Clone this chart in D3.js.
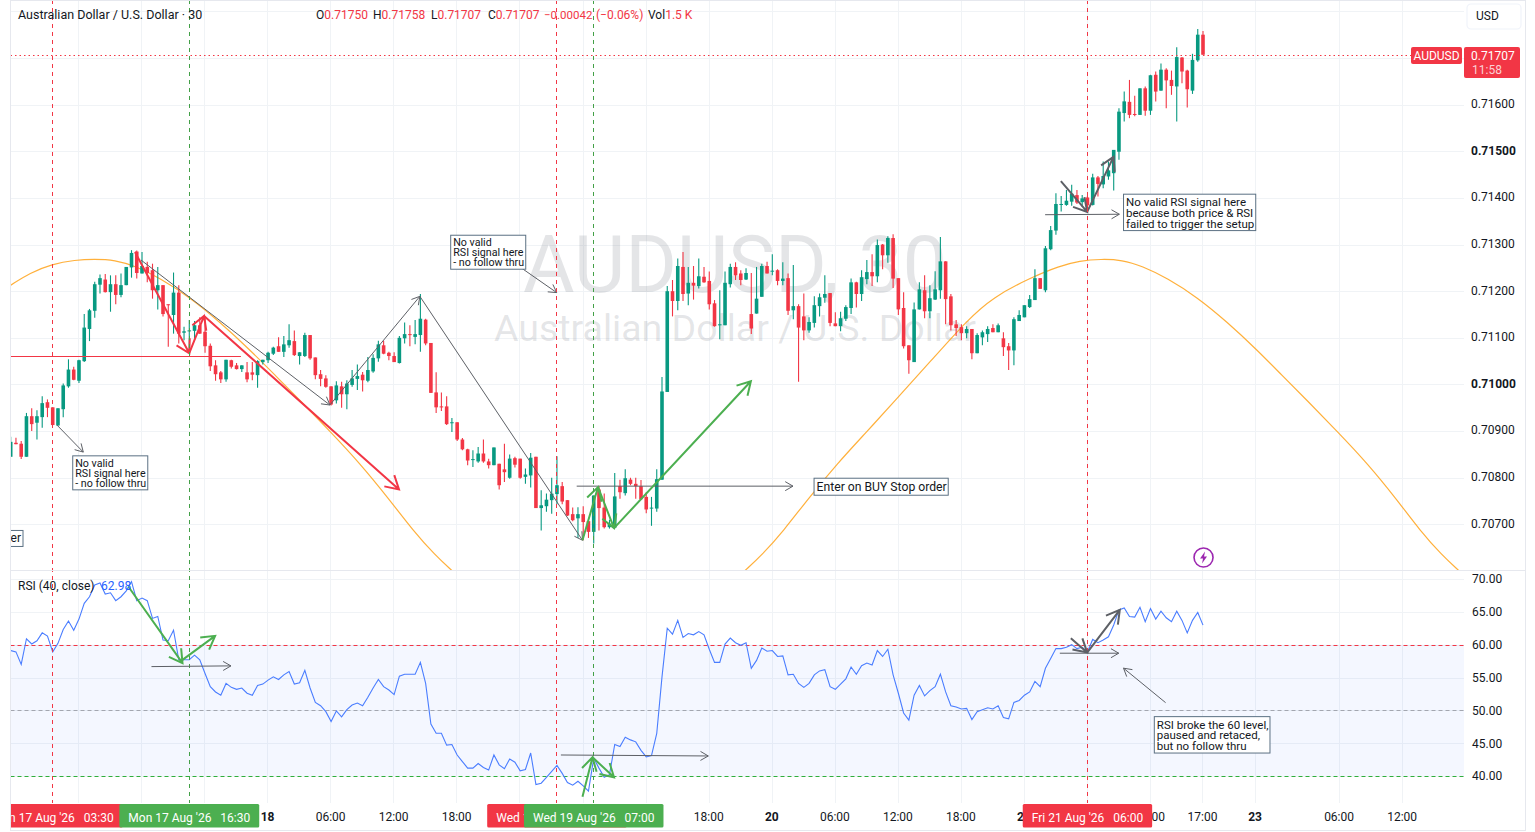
<!doctype html>
<html>
<head>
<meta charset="UTF-8">
<style>
	html,body{margin:0;padding:0;background:#fff;overflow:hidden;}
	svg{display:block;}
	text{font-family:Roboto,"Noto Sans",sans-serif;fill:#131722;}
	.axis path,.axis line{display:none;}
	.axis text{font-size:12px;font-family:Roboto,sans-serif;fill:#131722;}
</style>
</head>
<body>
<div id="chart"></div>
<script src="https://cdnjs.cloudflare.com/ajax/libs/d3/7.8.5/d3.min.js"></script>
<script>
// prices are in points, 71707 means 0.71707
var opens=[70845,70875,70873,70845,70932,70918,70930,70962,70951,70912,70947,70996,71032,71008,71050,71119,71158,71214,71225,71198,71215,71192,71213,71251,71285,71238,71252,71245,71202,71213,71172,71149,71197,71111,71115,71115,71127,71113,71083,71041,71026,71011,71052,71041,71033,71026,71026,71020,71048,71052,71066,71082,71070,71084,71093,71061,71061,71106,71058,71022,71013,70996,70966,70996,70979,70999,71012,71021,71008,71028,71056,71084,71068,71061,71046,
71099,71108,71102,71106,71139,71089,70983,70953,70953,70918,70919,70882,70861,70839,70835,70852,70835,70827,70830,70818,70800,70842,70841,70802,70805,70845,70735,70739,70752,70765,70782,70752,70722,70713,70722,70707,70684,70775,70736,70694,70693,70782,70767,70796,70787,70782,70759,70734,70734,70796,70984,71200,71179,71252,71195,71218,71211,71231,71222,71174,71127,71127,71215,71252,71238,71225,71151,71152,71188,71254,71242,71245,71222,
71228,71159,71168,71146,71116,71132,71168,71186,71196,71131,71125,71141,71164,71219,71194,71226,71241,71232,71300,71277,71314,71228,71164,71084,71048,71161,71202,71157,71182,71202,71264,71189,71129,71123,71110,71119,71067,71101,71108,71121,71112,71099,71082,71073,71136,71144,71166,71181,71228,71202,
71290,71330,71385,71385,71392,71406,71391,71401,71385,71444,71429,71446,71453,71499,71582,71606,71580,71578,71635,71587,71664,71630,71675,71653,71639,71701,71673,71630,71695,71750];
var highs=[70888,70886,70879,70939,70949,70945,70975,70968,70951,70949,71002,71054,71038,71053,71151,71162,71220,71236,71237,71234,71234,71238,71252,71288,71287,71284,71263,71259,71252,71213,71172,71240,71213,71124,71138,71136,71144,71144,71088,71052,71029,71053,71053,71046,71041,71048,71048,71052,71053,71070,71081,71101,71104,71129,71116,71069,71111,71106,71058,71031,71020,70996,71007,71006,71009,71031,71043,71027,71059,71065,71094,71094,71070,71069,71104,
71133,71127,71138,71194,71141,71089,71026,70983,70975,70928,70919,70885,70862,70859,70866,70882,70841,70865,70830,70873,70850,70845,70841,70820,70853,70845,70773,70766,70800,70846,70791,70752,70736,70737,70739,70709,70762,70782,70766,70710,70810,70796,70818,70800,70800,70795,70769,70759,70818,71016,71211,71224,71270,71284,71252,71254,71270,71252,71242,71181,71202,71242,71259,71262,71245,71249,71239,71252,71259,71263,71279,71247,71262,
71238,71256,71172,71195,71144,71189,71195,71234,71196,71155,71156,71170,71227,71220,71245,71267,71279,71311,71301,71318,71322,71228,71198,71084,71176,71219,71234,71213,71243,71316,71264,71194,71138,71129,71125,71119,71110,71116,71125,71129,71131,71112,71089,71144,71159,71170,71192,71247,71228,71297,
71340,71410,71404,71417,71428,71417,71406,71404,71452,71447,71478,71478,71503,71592,71628,71653,71619,71635,71639,71664,71671,71688,71678,71673,71723,71702,71675,71709,71762,71758];
var lows=[70845,70872,70840,70845,70900,70882,70907,70930,70913,70912,70930,70993,71009,71003,71048,71093,71143,71195,71197,71156,71172,71187,71213,71229,71227,71238,71219,71184,71161,71146,71081,71109,71088,71095,71073,71095,71108,71068,71029,71008,71003,71006,71034,71032,71027,71005,71009,70993,71043,71046,71063,71070,71059,71079,71061,71043,71059,71053,71011,70996,70993,70955,70959,70950,70947,70995,70988,70985,71005,71025,71049,71065,71052,71048,71045,
71088,71082,71086,71070,71084,70982,70939,70943,70913,70898,70879,70859,70827,70823,70832,70832,70820,70827,70775,70791,70798,70822,70798,70787,70779,70735,70687,70727,70723,70743,70743,70718,70707,70671,70666,70671,70659,70687,70691,70691,70691,70755,70762,70784,70755,70753,70724,70697,70727,70795,70984,71146,71159,71179,71170,71182,71206,71218,71161,71124,71097,71127,71208,71224,71213,71224,71108,71152,71188,71238,71234,71213,71213,
71149,71140,71006,71095,71111,71122,71146,71175,71125,71125,71114,71136,71151,71165,71179,71215,71211,71219,71247,71261,71207,71149,71077,71023,71048,71161,71142,71142,71181,71184,71129,71116,71104,71095,71099,71054,71067,71084,71091,71112,71112,71061,71031,71041,71136,71144,71164,71181,71205,71198,
71288,71321,71371,71383,71383,71387,71381,71371,71384,71403,71421,71439,71416,71482,71564,71571,71575,71578,71576,71578,71607,71630,71592,71621,71564,71646,71594,71623,71692,71707];
var closes=[70877,70872,70845,70932,70915,70932,70960,70950,70913,70949,70998,71032,71010,71052,71122,71159,71215,71228,71198,71215,71192,71213,71252,71282,71239,71254,71239,71202,71213,71151,71171,71197,71109,71114,71116,71127,71109,71082,71039,71022,71011,71053,71038,71033,71041,71011,71021,71050,71053,71068,71079,71070,71086,71095,71063,71069,71106,71056,71020,71012,70995,70957,70998,70979,71002,71013,71018,71009,71031,71057,71086,71066,71061,71048,71100,
71108,71106,71108,71141,71088,70982,70951,70952,70915,70919,70882,70861,70837,70840,70852,70835,70827,70865,70784,70812,70841,70828,70800,70807,70843,70735,70741,70753,70766,70784,70749,70719,70709,70722,70705,70684,70762,70735,70694,70702,70760,70769,70799,70787,70782,70754,70732,70736,70797,70985,71200,71179,71254,71194,71218,71212,71232,71219,71172,71125,71129,71218,71252,71234,71224,71239,71120,71184,71254,71238,71244,71222,71227,
71158,71168,71122,71116,71134,71170,71187,71194,71132,71125,71142,71166,71219,71194,71230,71241,71232,71299,71277,71314,71227,71161,71082,71052,71161,71204,71157,71185,71204,71264,71183,71127,71121,71110,71119,71067,71106,71112,71119,71112,71127,71080,71073,71140,71149,71170,71183,71228,71205,71292,
71331,71387,71387,71394,71409,71390,71399,71384,71444,71430,71447,71459,71503,71585,71607,71578,71578,71635,71587,71663,71628,71675,71652,71640,71702,71671,71633,71696,71750,71707];
var rsiValues=[59.1,58.9,57.0,60.9,60.1,60.6,61.8,61.3,58.9,60.2,62.3,63.6,62.2,63.9,66.3,67.3,69.1,69.4,67.7,67.9,66.7,67.3,68.2,69.6,66.7,67.1,66.7,64.0,64.3,60.7,60.6,62.2,57.7,57.7,57.7,58.4,57.7,55.6,53.6,52.8,52.3,54.1,53.5,53.2,53.4,52.6,52.3,53.8,54.0,54.6,55.1,54.7,55.4,55.9,54.0,54.2,56.1,53.4,51.2,50.7,49.8,48.3,49.9,49.0,50.1,50.8,51.1,50.7,52.0,53.4,54.7,53.6,53.1,52.4,55.2,
55.5,55.5,55.5,57.3,54.1,47.9,46.5,46.5,44.7,44.8,43.2,42.2,41.2,41.2,41.9,41.3,40.9,43.2,41.7,41.1,42.6,42.1,40.8,41.0,43.5,38.7,38.9,39.8,40.7,41.6,40.4,39.0,38.6,39.2,38.5,37.7,42.7,41.2,39.8,40.2,44.8,44.5,45.9,45.5,45.2,43.9,42.9,43.1,46.5,55.1,62.5,61.6,63.7,61.1,61.7,61.5,62.0,61.5,59.3,57.3,57.3,60.1,61.0,60.3,59.9,60.3,56.4,57.6,59.5,59.0,59.1,58.2,58.3,55.4,55.5,54.1,
53.5,54.1,55.4,56.0,56.2,53.6,53.2,54.0,54.8,56.6,55.5,56.8,57.2,56.9,59.1,58.2,59.3,55.4,52.6,49.6,48.5,52.3,53.8,52.2,53.0,53.6,55.5,52.8,50.7,50.5,50.2,50.3,48.6,49.8,50.1,50.4,50.2,50.7,48.9,48.7,51.2,51.5,52.3,52.8,54.4,53.6,56.4,57.9,59.4,59.4,59.6,60.0,59.4,59.6,58.9,60.8,60.3,60.7,61.2,63.0,65.3,65.6,64.3,64.2,65.7,63.5,65.5,63.9,65.1,64.1,63.5,65.1,63.7,61.8,63.7,64.9,62.98];

var priceTicks=[71800,71700,71600,71500,71400,71300,71200,71100,71000,70900,70800,70700];
var priceLabelTicks=[71600,71500,71400,71300,71200,71100,71000,70900,70800,70700];
var rsiTicks=[70,65,60,55,50,45,40];
// labels left empty are the ones the date flags cover completely
var timeBars=[13,25,37,49,61,73,85,97,109,121,133,145,157,169,181,193,205,217,227,237,253,265];
var timeLabels=["","","","18","06:00","12:00","18:00","","","","18:00","20","06:00","12:00","18:00","21","","12:00","17:00","23","06:00","12:00"];

// the two orange arcs, bar number and price
var arcLeftBars=[0.04,3.65,7.86,12.27,15.88,19.88,23.69,28.4,34.11,39.82,45.55,50.34,55.05,60.77,66.48,72.19,76.6,80.81,84.01];
var arcLeftPrices=[71213,71239,71258,71267,71269,71267,71254,71228,71187,71134,71074,71020,70966,70900,70831,70752,70687,70634,70601];
var arcRightBars=[139.8,143,147.2,151.6,157.4,163.1,168.4,175,182.1,187,194,199.7,203.5,207.6,211.6,215.4,220.2,225.9,231.6,237.3,242,246.8,252.5,258.3,264,268.3,272.5,275.7];
var arcRightPrices=[70601,70634,70687,70752,70831,70900,70966,71048,71138,71187,71228,71254,71265,71269,71267,71254,71228,71187,71134,71074,71020,70966,70900,70831,70752,70687,70634,70601];

var markerBars=[8,34,104,111,205];
var markerKinds=["red","green","red","green","red"];
var flagTexts=["Mon 17 Aug '26   03:30","Mon 17 Aug '26   16:30","Wed 19 Aug '26   03:30","Wed 19 Aug '26   07:00","Fri 21 Aug '26   06:00"];

// drawn arrows: from bar, from value, to bar, to value
var priceThinArrows=[[8.81,70913,13.82,70855],[24.79,71267,60.77,70956],[60.77,70956,77.9,71189],[77.9,71189,108.86,70666],[96.94,71252,103.95,71197],[107.76,70782,148.94,70782],[196.94,71364,211.07,71365]];
var priceRedArrows=[[23.66,71284,34,71067],[34,71067,36.82,71147],[36.82,71147,73.93,70775]];
var priceGreenArrows=[[108.86,70666,111.82,70780],[111.82,70780,114.87,70692],[114.87,70692,140.92,71007]];
var priceDarkArrows=[[199.94,71436,204.95,71370],[204.95,71370,209.96,71488]];
var rsiThinArrows=[[26.8,56.66,41.93,56.77],[104.75,43.2,132.81,43.05],[199.74,58.7,210.96,58.7],[219.88,51.17,211.87,56.42]];
var rsiGreenArrows=[[22.39,68.86,32.71,57.18],[32.71,57.68,38.92,61.34],[108.86,36.84,110.77,42.85],[110.77,42.85,114.87,39.8]];
var rsiDarkArrows=[[201.84,60.99,204.95,58.8],[204.95,58.8,211.16,65.3]];

var noteBars=[11.81,83.77,152.95,211.87];
var notePrices=[70847,71320,70799,71408];
var noteLines=[["No valid","RSI signal here","- no follow thru"],["No valid","RSI signal here","- no follow thru"],["Enter on BUY Stop order"],["No valid RSI signal here","because both price & RSI","failed to trigger the setup"]];

var W=1535,H=832;
var left=10.5,paneRight=1464,outerRight=1525.5,priceBottom=570,rsiBottom=803;
var green="#089981",red="#f23645",flagGreen="#4caf50",gray="#5d6066";

var svg=d3.select("#chart").append("svg").attr("width",W).attr("height",H);
var defs=svg.append("defs");
defs.append("clipPath").attr("id","pricePane").append("rect").attr("x",left+0.5).attr("y",0).attr("width",paneRight-left).attr("height",priceBottom);
defs.append("clipPath").attr("id","rsiPane").append("rect").attr("x",left+0.5).attr("y",priceBottom+1).attr("width",paneRight-left).attr("height",rsiBottom-priceBottom);
defs.append("clipPath").attr("id","allPane").append("rect").attr("x",left+0.5).attr("y",0).attr("width",outerRight-left).attr("height",H);

var x=d3.scaleLinear().domain([0,227]).range([10.7,1203]);
var yPrice=d3.scaleLinear().domain([70700,71700]).range([524.4,58]);
var yRsi=d3.scaleLinear().domain([40,70]).range([776,579]);
// snap a bar to the pixel column used for thin vertical lines
function snapX(d){return Math.floor(x(d)-0.2)+0.5}

// grid
var grid=svg.append("g").attr("stroke","#f0f3f6").attr("stroke-width",1);
grid.selectAll(".gx").data(timeBars).enter().append("line")
	.attr("x1",snapX).attr("x2",snapX)
	.attr("y1",0).attr("y2",rsiBottom);
grid.selectAll(".gy").data(priceTicks).enter().append("line")
	.attr("x1",left).attr("x2",paneRight)
	.attr("y1",function(d){return Math.round(yPrice(d))+0.5}).attr("y2",function(d){return Math.round(yPrice(d))+0.5});
grid.selectAll(".gr").data(rsiTicks).enter().append("line")
	.attr("x1",left).attr("x2",paneRight)
	.attr("y1",function(d){return Math.round(yRsi(d))+0.5}).attr("y2",function(d){return Math.round(yRsi(d))+0.5});

// watermark
var priceLayer=svg.append("g").attr("clip-path","url(#pricePane)");
priceLayer.append("text").attr("x",735).attr("y",292).attr("text-anchor","middle")
	.style("font-size","79px").style("fill","rgba(120,123,134,0.2)").text("AUDUSD, 30");
priceLayer.append("text").attr("x",735).attr("y",341).attr("text-anchor","middle")
	.style("font-size","37.5px").style("fill","rgba(120,123,134,0.2)").text("Australian Dollar / U.S. Dollar");

// orange arcs
var arcLine=d3.line().curve(d3.curveBasis);
function arcPath(bars,prices){
	priceLayer.append("path").attr("fill","none").attr("stroke","#ffa726").attr("stroke-width",1.2).attr("opacity",0.9)
		.attr("d",arcLine(bars.map(function(b,i){return [x(b),yPrice(prices[i])]})));
}
arcPath(arcLeftBars,arcLeftPrices);
arcPath(arcRightBars,arcRightPrices);

// candles
var bars=d3.range(opens.length);
var candle=priceLayer.selectAll(".candle").data(bars).enter().append("g");
function cx(i){return x(i)}
function ccol(i){return closes[i]>=opens[i]?green:red}
candle.append("line")
	.attr("x1",cx).attr("x2",cx)
	.attr("y1",function(i){return yPrice(highs[i])}).attr("y2",function(i){return yPrice(lows[i])})
	.attr("stroke",ccol).attr("stroke-width",1.1);
candle.append("rect")
	.attr("x",function(i){return cx(i)-1.8}).attr("width",3.6)
	.attr("y",function(i){return yPrice(Math.max(opens[i],closes[i]))})
	.attr("height",function(i){return Math.max(1,Math.abs(yPrice(opens[i])-yPrice(closes[i])))})
	.attr("fill",ccol);

// last price dotted line and the red level line
var lastY=Math.round(yPrice(closes[closes.length-1]))+0.5;
priceLayer.append("line").attr("x1",left).attr("x2",1411)
	.attr("y1",lastY).attr("y2",lastY)
	.attr("stroke",red).attr("stroke-dasharray","1.5 3");
priceLayer.append("line").attr("x1",x(0.04)).attr("x2",x(43.83))
	.attr("y1",Math.floor(yPrice(71059))+0.5).attr("y2",Math.floor(yPrice(71059))+0.5)
	.attr("stroke",red).attr("stroke-width",1);

// rsi pane
var rsiLayer=svg.append("g").attr("clip-path","url(#rsiPane)");
rsiLayer.append("rect").attr("x",left).attr("width",paneRight-left)
	.attr("y",yRsi(60)).attr("height",yRsi(40)-yRsi(60)).attr("fill","rgba(41,98,255,0.05)");
[[60,red],[50,"#a3a6af"],[40,"#2fae3c"]].forEach(function(l){
	rsiLayer.append("line").attr("x1",left).attr("x2",paneRight)
		.attr("y1",Math.round(yRsi(l[0]))+0.5).attr("y2",Math.round(yRsi(l[0]))+0.5)
		.attr("stroke",l[1]).attr("stroke-dasharray","4 3");
});
rsiLayer.append("path").attr("fill","none").attr("stroke","#4a7dff").attr("stroke-width",1.1)
	.attr("d",d3.line().x(function(d,i){return x(i)}).y(function(d){return yRsi(d)})(rsiValues));

// vertical event lines
svg.append("g").selectAll("line").data(markerBars).enter().append("line")
	.attr("x1",snapX).attr("x2",snapX)
	.attr("y1",0).attr("y2",rsiBottom)
	.attr("stroke",function(d,i){return markerKinds[i]=="red"?red:"#43a047"})
	.attr("stroke-dasharray","4 4");

// arrows, head in screen pixels
function arrow(layer,a,yScale,color,width,head){
	var x1=x(a[0]),y1=yScale(a[1]),x2=x(a[2]),y2=yScale(a[3]);
	var ang=Math.atan2(y2-y1,x2-x1),spread=Math.PI/6;
	layer.append("path").attr("fill","none").attr("stroke",color).attr("stroke-width",width).attr("stroke-linejoin","miter")
		.attr("d","M"+x1+","+y1+"L"+x2+","+y2+
			"M"+(x2-head*Math.cos(ang-spread))+","+(y2-head*Math.sin(ang-spread))+
			"L"+x2+","+y2+
			"L"+(x2-head*Math.cos(ang+spread))+","+(y2-head*Math.sin(ang+spread)));
}
priceThinArrows.forEach(function(a){arrow(priceLayer,a,yPrice,gray,1,9)});
priceRedArrows.forEach(function(a){arrow(priceLayer,a,yPrice,red,2,15)});
priceGreenArrows.forEach(function(a){arrow(priceLayer,a,yPrice,flagGreen,2,15)});
priceDarkArrows.forEach(function(a){arrow(priceLayer,a,yPrice,gray,2,15)});
var rsiDraw=svg.append("g").attr("clip-path","url(#allPane)");
rsiThinArrows.forEach(function(a){arrow(rsiDraw,a,yRsi,gray,1,9)});
rsiGreenArrows.forEach(function(a){arrow(rsiDraw,a,yRsi,flagGreen,2,15)});
rsiDarkArrows.forEach(function(a){arrow(rsiDraw,a,yRsi,gray,2,15)});

// text notes
function note(layer,px,py,lines,size,lh){
	var g=layer.append("g").attr("transform","translate("+px+","+py+")");
	var r=g.append("rect").attr("fill","#fff").attr("stroke","#5b7083");
	var t=g.append("text").style("font-size",size+"px");
	lines.forEach(function(l,i){
		t.append("tspan").attr("x",2.5).attr("y",size+0.5+i*lh).text(l);
	});
	var b=t.node().getBBox();
	r.attr("width",b.width+4).attr("height",lines.length*lh+4);
}
note(priceLayer,x(noteBars[0]),yPrice(notePrices[0]),noteLines[0],10.7,10);
note(priceLayer,x(noteBars[1]),yPrice(notePrices[1]),noteLines[1],10.7,10);
note(priceLayer,x(noteBars[2]),yPrice(notePrices[2]),noteLines[2],12.2,13);
note(priceLayer,x(noteBars[3]),yPrice(notePrices[3]),noteLines[3],11.5,10.8);
note(svg,x(217.73),yRsi(49.04),["RSI broke the 60 level,","paused and retaced,","but no follow thru"],11.5,10.8);
// cut-off note at the left edge
var cutNote=priceLayer.append("g");
cutNote.append("rect").attr("x",-40).attr("y",yPrice(70687)).attr("width",63).attr("height",16).attr("fill","#fff").attr("stroke","#5b7083");
cutNote.append("text").attr("x",21).attr("y",yPrice(70687)+12).attr("text-anchor","end").style("font-size","12px").text("er");

// small alert icon
var bolt=svg.append("g").attr("transform","translate("+x(227.1)+","+yPrice(70629)+")");
bolt.append("circle").attr("r",9.5).attr("fill","#fff").attr("stroke","#9c27b0").attr("stroke-width",1.6);
bolt.append("path").attr("d","M1.5,-6L-3.5,1H-0.5L-1.5,6L3.5,-1H0.5Z").attr("fill","#9c27b0");

// right axes
var priceAxis=svg.append("g").attr("class","axis").attr("transform","translate(1471,-1)")
	.call(d3.axisRight(yPrice).tickValues(priceLabelTicks).tickSize(0).tickPadding(0).tickFormat(function(d){return (d/1e5).toFixed(5)}));
priceAxis.selectAll("text").style("font-weight",function(d){return d%500==0?"700":"400"});
svg.append("g").attr("class","axis").attr("transform","translate(1472,0)")
	.call(d3.axisRight(yRsi).tickValues(rsiTicks).tickSize(0).tickPadding(0).tickFormat(function(d){return d.toFixed(2)}));

// time axis
var timeAxis=svg.append("g").attr("class","axis").attr("transform","translate(-1,812)")
	.call(d3.axisBottom(x).tickValues(timeBars).tickSize(0).tickPadding(0).tickFormat(function(d,i){return timeLabels[i]}));
timeAxis.selectAll("text").style("font-weight",function(d,i){return timeLabels[i].length<3?"700":"400"});

// crosshair style flags on the time axis
var flagLayer=svg.append("g").attr("clip-path","url(#allPane)");
markerBars.forEach(function(b,i){
	var g=flagLayer.append("g").attr("transform","translate("+x(b)+",804)");
	var r=g.append("rect").attr("y",0).attr("height",23.5).attr("rx",1.5).attr("fill",markerKinds[i]=="red"?red:flagGreen);
	var t=g.append("text").attr("y",17.5).attr("text-anchor","middle").style("font-size","12px").style("fill","#fff").style("white-space","pre").text(flagTexts[i]);
	var w=t.node().getComputedTextLength()+18;
	r.attr("x",-w/2).attr("width",w);
});

// header
var head=svg.append("g").style("font-size","12px");
head.append("text").attr("x",18).attr("y",19).style("font-size","12.5px").text("Australian Dollar / U.S. Dollar · 30");
var headLetters=["O","H","L","C"],headValues=[opens[227],highs[227],lows[227],closes[227]],headX=[316,373,431,488];
headLetters.forEach(function(l,i){
	var t=head.append("text").attr("x",headX[i]).attr("y",19);
	t.append("tspan").text(l);
	t.append("tspan").style("fill",red).text((headValues[i]/1e5).toFixed(5));
});
head.append("text").attr("x",544).attr("y",19).style("font-size","11.5px").style("fill",red).text("−0.00042");
head.append("text").attr("x",596).attr("y",19).style("fill",red).text("(−0.06%)");
var volText=head.append("text").attr("x",648).attr("y",19);
volText.append("tspan").text("Vol");
volText.append("tspan").style("fill",red).text("1.5 K");

// rsi legend
var legend=svg.append("g");
legend.append("text").attr("x",18).attr("y",590).style("font-size","12px").text("RSI (40, close)");
legend.append("text").attr("x",101).attr("y",590).style("font-size","12px").style("fill","#2962ff").text(rsiValues[227].toFixed(2));

// last price tag
var tag=svg.append("g");
tag.append("rect").attr("x",1411).attr("y",47).attr("width",51).attr("height",17).attr("rx",2).attr("fill",red);
tag.append("text").attr("x",1436.5).attr("y",60).attr("text-anchor","middle").style("font-size","12px").style("fill","#fff").text("AUDUSD");
tag.append("rect").attr("x",1464).attr("y",47).attr("width",56).attr("height",31).attr("rx",2).attr("fill",red);
tag.append("text").attr("x",1471).attr("y",60).style("font-size","12px").style("fill","#fff").text((closes[227]/1e5).toFixed(5));
tag.append("text").attr("x",1472).attr("y",74).style("font-size","12px").style("fill","#fbd0d4").text("11:58");

// currency button
svg.append("rect").attr("x",1467).attr("y",4).attr("width",54).attr("height",25).attr("rx",4).attr("fill","#fff").attr("stroke","#f0f3fa").attr("stroke-width",1.2);
svg.append("text").attr("x",1476).attr("y",20).style("font-size","12px").text("USD");

// frame
svg.append("rect").attr("x",left).attr("y",0.5).attr("width",outerRight-left).attr("height",830).attr("fill","none").attr("stroke","#e6e8ee");
svg.append("line").attr("x1",left).attr("x2",outerRight).attr("y1",570.5).attr("y2",570.5).attr("stroke","#e6e8ee");
</script>
</body>
</html>
